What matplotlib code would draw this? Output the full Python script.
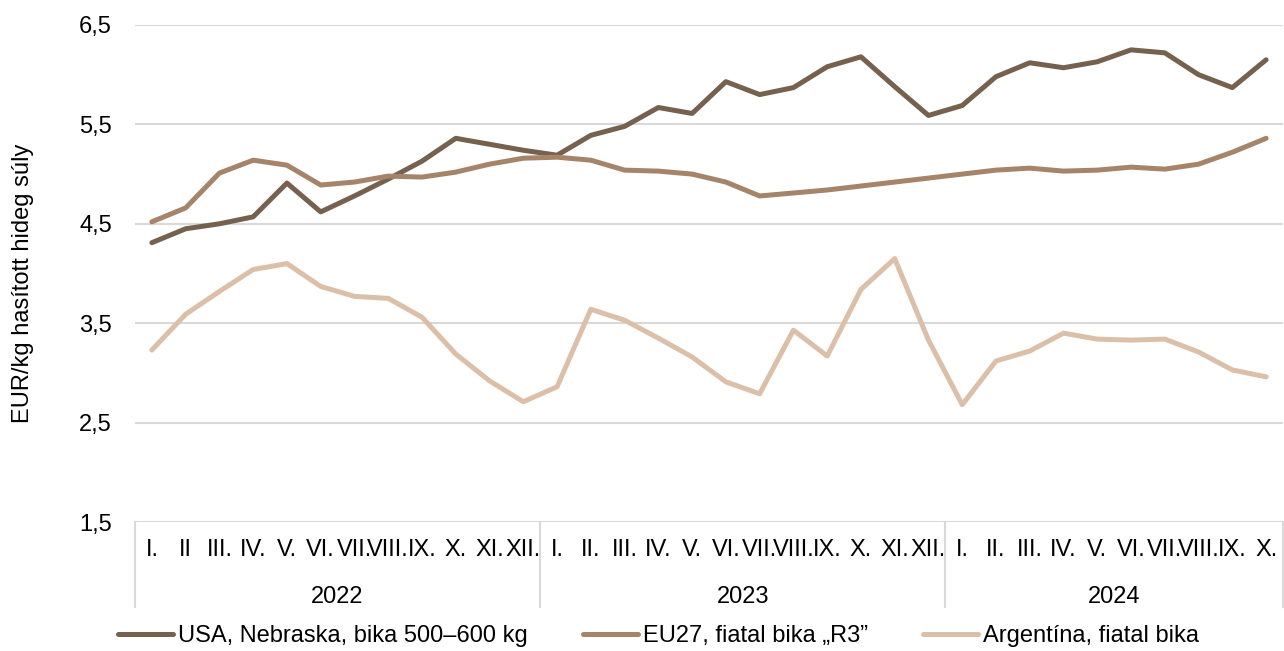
import matplotlib
matplotlib.use("Agg")
import matplotlib.pyplot as plt
import matplotlib.transforms as mtransforms

plt.rcParams["font.family"] = ["Liberation Sans", "DejaVu Sans"]

years = ["2022", "2023", "2024"]
months_2022 = ["I.", "II", "III.", "IV.", "V.", "VI.", "VII.", "VIII.", "IX.", "X.", "XI.", "XII."]
months_2023 = ["I.", "II.", "III.", "IV.", "V.", "VI.", "VII.", "VIII.", "IX.", "X.", "XI.", "XII."]
months_2024 = ["I.", "II.", "III.", "IV.", "V.", "VI.", "VII.", "VIII.", "IX.", "X."]

usa = [4.31, 4.45, 4.50, 4.57, 4.91, 4.62, 4.78, 4.95, 5.13, 5.36, 5.30, 5.24,
       5.19, 5.39, 5.48, 5.67, 5.61, 5.93, 5.80, 5.87, 6.08, 6.18, 5.88, 5.59,
       5.69, 5.98, 6.12, 6.07, 6.13, 6.25, 6.22, 6.00, 5.87, 6.15]
eu = [4.52, 4.66, 5.01, 5.14, 5.09, 4.89, 4.92, 4.98, 4.97, 5.02, 5.10, 5.16,
      5.17, 5.14, 5.04, 5.03, 5.00, 4.92, 4.78, 4.81, 4.84, 4.88, 4.92, 4.96,
      5.00, 5.04, 5.06, 5.03, 5.04, 5.07, 5.05, 5.10, 5.22, 5.36]
arg = [3.23, 3.59, 3.82, 4.04, 4.10, 3.87, 3.77, 3.75, 3.56, 3.19, 2.92, 2.71,
       2.86, 3.64, 3.53, 3.35, 3.16, 2.91, 2.79, 3.43, 3.17, 3.84, 4.15, 3.33,
       2.68, 3.12, 3.22, 3.40, 3.34, 3.33, 3.34, 3.21, 3.03, 2.96]

labels = ["USA, Nebraska, bika 500–600 kg", "EU27, fiatal bika „R3”", "Argentína, fiatal bika"]
colors = ["#76614e", "#a6846a", "#dcbfa8"]

month_labels = months_2022 + months_2023 + months_2024
x = list(range(len(month_labels)))
fs = 17

fig = plt.figure(figsize=(12.84, 6.51), dpi=100)
ax = fig.add_axes([135 / 1284, 1 - 522 / 651, 1148 / 1284, 497 / 651])

for series, lab, col in zip([usa, eu, arg], labels, colors):
    ax.plot(x, series, color=col, linewidth=3.6, label=lab,
            solid_capstyle="round", solid_joinstyle="round", zorder=3)

ax.set_xlim(-0.5, len(x) - 0.5)
ax.set_ylim(1.5, 6.5)
ax.set_yticks([1.5, 2.5, 3.5, 4.5, 5.5, 6.5])
ax.set_yticklabels([f"{v:.1f}".replace(".", ",") for v in ax.get_yticks()])
ax.grid(axis="y", color="#d9d9d9", linewidth=1.5, zorder=0)
for s in ax.spines.values():
    s.set_visible(False)
ax.tick_params(axis="y", length=0, pad=16.5, labelsize=fs)
ax.set_ylabel("EUR/kg hasított hideg súly", fontsize=fs)
ax.yaxis.set_label_coords(-(135 - 23) / 1148, 0.48)
ax.yaxis.label.set_va("center")

ax.set_xticks(x)
ax.set_xticklabels(month_labels, fontsize=fs)
ax.tick_params(axis="x", length=0, pad=12)

# year groups and separators
trans = mtransforms.blended_transform_factory(ax.transData, ax.transAxes)
counts = [len(months_2022), len(months_2023), len(months_2024)]
start = 0
bounds = [-0.5]
for yr, n in zip(years, counts):
    ax.text(start + (n - 1) / 2, -0.15, yr, transform=trans, ha="center",
            va="center", fontsize=fs)
    start += n
    bounds.append(start - 0.5)
for b in bounds:
    ax.plot([b, b], [0, -0.172], transform=trans, color="#d9d9d9",
            linewidth=1.5, clip_on=False)

fig.legend(loc="center left", bbox_to_anchor=((118 - 9.4) / 1284, 1 - 636 / 651),
           ncol=3, frameon=False, fontsize=fs, handlelength=2.33,
           handletextpad=0.21, columnspacing=2.33, borderaxespad=0)

fig.savefig("out.png", dpi=100)
